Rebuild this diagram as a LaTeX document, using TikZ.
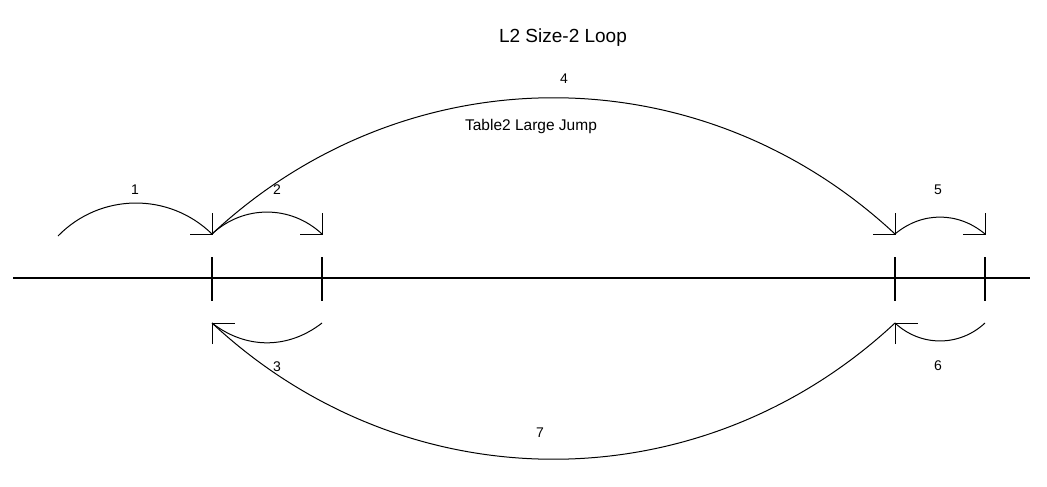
\documentclass[tikz,border=0pt]{standalone}
\usepackage{fontspec}
\setmainfont{Liberation Sans}
\begin{document}
\begin{tikzpicture}[x=1pt,y=-1pt,
  arcline/.style={line width=1pt, black},
  axisline/.style={line width=2.6pt, black},
  tickline/.style={line width=2.6pt, black},
  headline/.style={line width=1pt, black},
  numlabel/.style={font=\fontsize{14}{16}\selectfont, inner sep=0pt},
  titlelabel/.style={font=\fontsize{19}{23}\selectfont, inner sep=0pt, anchor=base},
  jumplabel/.style={font=\fontsize{15.5}{18}\selectfont, inner sep=0pt, anchor=base}]
\useasboundingbox[fill=white] (0,0) rectangle (1047,487);
% axis
\coordinate (axL) at (13,278);
\coordinate (axR) at (1030,278);
\draw[axisline] (axL) -- (axR);
% ticks
\foreach \n/\x in {ta/212, tb/322, tc/895, td/985}{
  \coordinate (\n top) at (\x,257);
  \coordinate (\n bot) at (\x,301);
  \draw[tickline] (\n top) -- (\n bot);
}
% top tips
\coordinate (s1) at (58,236);
\coordinate (uA) at (212,234);
\coordinate (uB) at (322,234);
\coordinate (uC) at (895,234);
\coordinate (uD) at (985,234);
% bottom tips
\coordinate (dA) at (212,323);
\coordinate (dB) at (322,323);
\coordinate (dC) at (895,323);
\coordinate (dD) at (985,323);
% arcs
\draw[arcline] (s1) to[bend left=45] (uA);
\draw[arcline] (uA) to[bend left=43] (uB);
\draw[arcline] (uA) to[bend left=43] (uC);
\draw[arcline] (uC) to[bend left=40] (uD);
\draw[arcline] (dB) to[bend left=38] (dA);
\draw[arcline] (dD) to[bend left=43] (dC);
\draw[arcline] (dC) to[bend left=43] (dA);
% arrowheads (top, pointing down-right)
\foreach \t in {uA,uB,uC,uD}{
  \draw[headline] (\t) ++(0,-21) -- (\t) -- ++(-22,0);
}
% arrowheads (bottom, pointing up-left)
\foreach \t in {dA,dC}{
  \draw[headline] (\t) ++(0,21) -- (\t) -- ++(23,0);
}
% labels
\node[titlelabel] (title) at (563,43) {L2 Size-2 Loop};
\node[jumplabel] (jump) at (531,130) {Table2 Large Jump};
\node[numlabel] (l1) at (135,190) {1};
\node[numlabel] (l2) at (277,190) {2};
\node[numlabel] (l3) at (277,367) {3};
\node[numlabel] (l4) at (564,79) {4};
\node[numlabel] (l5) at (938,190) {5};
\node[numlabel] (l6) at (938,366) {6};
\node[numlabel] (l7) at (540,433) {7};
\end{tikzpicture}
\end{document}
